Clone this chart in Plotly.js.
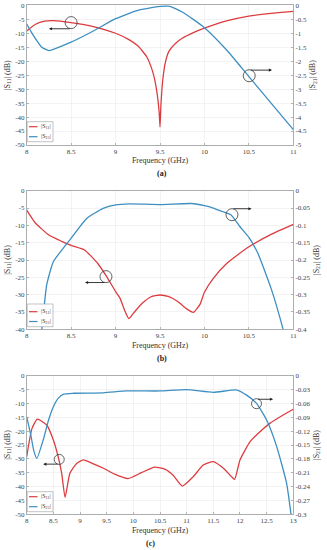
<!DOCTYPE html>
<html>
<head>
<meta charset="utf-8">
<script src="https://cdn.plot.ly/plotly-3.0.1.min.js"></script>
<style>html,body{margin:0;padding:0;background:#fff;}#chart{width:327px;height:550px;}</style>
</head>
<body>
<div id="chart"></div>
<script>
// ---------- Panel (a) ----------
const aS11Freq = [8, 8.1, 8.2, 8.3, 8.5, 8.75, 9, 9.15, 9.25, 9.35, 9.42, 9.46, 9.49, 9.5, 9.51, 9.53, 9.56, 9.6, 9.68, 9.75, 9.875, 10, 10.25, 10.5, 10.75, 11];
const aS11 = [-9.2, -6.8, -5.7, -5.5, -6.2, -7.6, -10, -12.3, -14.5, -18.4, -24, -30, -38, -43.5, -36, -27, -20.5, -16.5, -13.5, -11.8, -9.8, -8.2, -5.6, -3.9, -2.9, -2.2];
const aS21Freq = [8, 8.05, 8.1, 8.17, 8.25, 8.4, 8.5, 8.75, 9, 9.25, 9.5, 9.6, 9.75, 10, 10.25, 10.5, 10.75, 11];
const aS21 = [-0.67, -0.95, -1.2, -1.5, -1.62, -1.45, -1.32, -0.92, -0.48, -0.18, -0.04, -0.03, -0.24, -0.8, -1.6, -2.55, -3.5, -4.45];

// ---------- Panel (b) ----------
const bS11Freq = [8, 8.1, 8.25, 8.4, 8.5, 8.65, 8.8, 8.9, 9, 9.05, 9.1, 9.15, 9.2, 9.3, 9.4, 9.5, 9.6, 9.7, 9.8, 9.875, 9.95, 10, 10.1, 10.25, 10.5, 10.75, 11];
const bS11 = [-5.6, -9.4, -12.8, -14.7, -15.8, -17.1, -21, -24.8, -29.1, -31, -34.4, -36.9, -35.4, -32.5, -30.6, -30.1, -30.6, -32, -34.1, -35.1, -32.8, -29.3, -25.3, -21, -16.2, -12.6, -9.7];
const bS21Freq = [8.1, 8.169, 8.225, 8.3, 8.5, 8.675, 8.86, 9, 9.16, 9.5, 9.85, 10, 10.1, 10.2, 10.3, 10.4, 10.5, 10.6, 10.75, 10.887, 10.95];
const bS21 = [-0.52, -0.402, -0.272, -0.205, -0.137, -0.08, -0.051, -0.041, -0.038, -0.04, -0.037, -0.043, -0.05, -0.06, -0.07, -0.104, -0.135, -0.18, -0.282, -0.402, -0.47];

// ---------- Panel (c) ----------
const cS11Freq = [8, 8.1, 8.2, 8.375, 8.5, 8.59, 8.656, 8.72, 8.81, 8.94, 9.06, 9.25, 9.44, 9.65, 9.9, 10.15, 10.4, 10.6, 10.75, 10.92, 11.125, 11.31, 11.5, 11.69, 11.84, 11.9, 12.0, 12.19, 12.375, 12.56, 12.81, 13];
const cS11 = [-29.2, -19, -15.7, -17.8, -23.2, -29.2, -35.2, -43.9, -35.2, -31.6, -30.4, -31.8, -33.4, -35.5, -37.1, -35, -33, -33.8, -36, -39.8, -36.4, -32.2, -31, -33.4, -36.4, -37.4, -30.4, -23.8, -20.2, -17.2, -14.2, -12.1];
const cS21Freq = [8, 8.08, 8.13, 8.19, 8.31, 8.41, 8.5, 8.59, 8.69, 8.875, 9.44, 9.875, 10.5, 11, 11.5, 11.94, 12.125, 12.31, 12.5, 12.69, 12.875, 12.96, 13.0];
const cS21 = [-0.089, -0.13, -0.161, -0.179, -0.139, -0.096, -0.067, -0.049, -0.040, -0.038, -0.037, -0.033, -0.033, -0.030, -0.036, -0.031, -0.042, -0.060, -0.096, -0.154, -0.233, -0.302, -0.33];

// ---------- Tick labels ----------
const xTicksAB = [8, 8.5, 9, 9.5, 10, 10.5, 11];
const xTickTextAB = ["8", "8.5", "9", "9.5", "10", "10.5", "11"];
const xTicksC = [8, 8.5, 9, 9.5, 10, 10.5, 11, 11.5, 12, 12.5, 13];
const xTickTextC = ["8", "8.5", "9", "9.5", "10", "10.5", "11", "11.5", "12", "12.5", "13"];
const yLeftTicks50 = [0, -5, -10, -15, -20, -25, -30, -35, -40, -45, -50];
const yLeftText50 = ["0", "-5", "-10", "-15", "-20", "-25", "-30", "-35", "-40", "-45", "-50"];
const yLeftTicks40 = [0, -5, -10, -15, -20, -25, -30, -35, -40];
const yLeftText40 = ["0", "-5", "-10", "-15", "-20", "-25", "-30", "-35", "-40"];
const yRightTicksA = [0, -0.5, -1, -1.5, -2, -2.5, -3, -3.5, -4, -4.5, -5];
const yRightTextA = ["0", "-0.5", "-1", "-1.5", "-2", "-2.5", "-3", "-3.5", "-4", "-4.5", "-5"];
const yRightTicksB = [0, -0.05, -0.1, -0.15, -0.2, -0.25, -0.3, -0.35, -0.4];
const yRightTextB = ["0", "-0.05", "-0.1", "-0.15", "-0.2", "-0.25", "-0.3", "-0.35", "-0.4"];
const yRightTicksC = [0, -0.03, -0.06, -0.09, -0.12, -0.15, -0.18, -0.21, -0.24, -0.27, -0.3];
const yRightTextC = ["0", "-0.03", "-0.06", "-0.09", "-0.12", "-0.15", "-0.18", "-0.21", "-0.24", "-0.27", "-0.3"];

const panelLabels = ["(a)", "(b)", "(c)"];
const s11Name = "|S<sub>11</sub>|";
const s21Name = "|S<sub>21</sub>|";

// ---------- styling ----------
const RED = "#dd3c3f";
const BLUE = "#3d8fc2";
const FONT = "Liberation Serif, DejaVu Serif, serif";
const AXC = "#8a8a8a";
const GRID = "#ebebeb";

function tr(x, y, name, color, xa, ya) {
  return {x: x, y: y, name: name, type: "scatter", mode: "lines",
    line: {color: color, width: 1.3, shape: "spline", smoothing: 0.5},
    xaxis: xa, yaxis: ya, showlegend: false, hoverinfo: "skip"};
}

const data = [
  tr(aS11Freq, aS11, s11Name, RED, "x", "y"),
  tr(aS21Freq, aS21, s21Name, BLUE, "x", "y2"),
  tr(bS11Freq, bS11, s11Name, RED, "x2", "y3"),
  tr(bS21Freq, bS21, s21Name, BLUE, "x2", "y4"),
  tr(cS11Freq, cS11, s11Name, RED, "x3", "y5"),
  tr(cS21Freq, cS21, s21Name, BLUE, "x3", "y6")
];

const XD = [26.7/327, 293.3/327];
function yd(top, bot) { return [1 - bot/550, 1 - top/550]; }

function xaxis(anchor, range, tv, tt) {
  return {domain: XD, anchor: anchor, range: range, tickvals: tv, ticktext: tt,
    showgrid: true, gridcolor: GRID, gridwidth: 0.6, zeroline: false,
    showline: true, linecolor: AXC, linewidth: 0.7, mirror: true,
    ticks: "inside", ticklen: 2.5, tickcolor: AXC, tickwidth: 0.6,
    tickfont: {family: FONT, size: 7, color: "#444"},
    title: {text: "Frequency (GHz)", font: {family: FONT, size: 8, color: "#333"}, standoff: 2},
    automargin: false, fixedrange: true};
}
function yleft(anchor, dom, range, tv, tt) {
  return {domain: dom, anchor: anchor, range: range, tickvals: tv, ticktext: tt,
    showgrid: true, gridcolor: GRID, gridwidth: 0.6, zeroline: false,
    showline: true, linecolor: AXC, linewidth: 0.7, mirror: false,
    ticks: "inside", ticklen: 2.5, tickcolor: AXC, tickwidth: 0.6,
    tickfont: {family: FONT, size: 7, color: "#444"},
    title: {text: s11Name + " (dB)", font: {family: FONT, size: 8, color: "#333"}, standoff: 3},
    automargin: false, fixedrange: true};
}
function yright(anchor, over, range, tv, tt) {
  return {overlaying: over, anchor: anchor, side: "right", range: range, tickvals: tv, ticktext: tt,
    showgrid: false, zeroline: false,
    showline: true, linecolor: AXC, linewidth: 0.7,
    ticks: "inside", ticklen: 2.5, tickcolor: AXC, tickwidth: 0.6,
    tickfont: {family: FONT, size: 7, color: "#444"},
    title: {text: s21Name + " (dB)", font: {family: FONT, size: 8, color: "#333"}, standoff: 3},
    automargin: false, fixedrange: true};
}

function circle(xa, ya, x, y, r) {
  return {type: "circle", xref: xa, yref: ya, xsizemode: "pixel", ysizemode: "pixel",
    xanchor: x, yanchor: y, x0: -r, x1: r, y0: -r, y1: r,
    line: {color: "#3a3a3a", width: 0.8}};
}
function arrow(xa, ya, xTail, xHead, y) {
  return {xref: xa, yref: ya, axref: xa, ayref: ya, x: xHead, y: y, ax: xTail, ay: y,
    text: "", showarrow: true, arrowhead: 2, arrowsize: 0.7, arrowwidth: 0.9, arrowcolor: "#222"};
}
function lbl(text, xpx, ypx) {
  return {xref: "paper", yref: "paper", x: xpx/327, y: 1 - ypx/550, text: "<b>" + text + "</b>",
    showarrow: false, font: {family: FONT, size: 8, color: "#222"}, xanchor: "center", yanchor: "middle"};
}

// compact legend box (paper coords, px converted)
const px = v => v/327, py = v => 1 - v/550;
const shapes = [
  circle("x", "y", 8.5, -6.2, 6),
  circle("x", "y", 10.504, -25.2, 6),
  circle("x2", "y3", 8.892, -24.8, 6),
  circle("x2", "y3", 10.31, -6.93, 6),
  circle("x3", "y5", 8.61, -30.2, 5),
  circle("x3", "y5", 12.31, -10.1, 5)
];
const annotations = [
  arrow("x", "y", 8.5, 8.25, -8.4),
  arrow("x", "y", 10.504, 10.76, -23.2),
  arrow("x2", "y3", 8.892, 8.656, -26.5),
  arrow("x2", "y3", 10.31, 10.53, -5.2),
  arrow("x3", "y5", 8.61, 8.31, -31.9),
  arrow("x3", "y5", 12.31, 12.62, -8.5),
  lbl(panelLabels[0], 162, 173),
  lbl(panelLabels[1], 162, 358),
  lbl(panelLabels[2], 150, 543)
];
function addLegend(top, bottom, yRed, yBlue) {
  shapes.push({type: "rect", xref: "paper", yref: "paper", x0: px(27.2), x1: px(53), y0: py(bottom), y1: py(top),
    fillcolor: "#ffffff", line: {color: "#9a9a9a", width: 0.6}, layer: "above"});
  [[yRed, RED, s11Name], [yBlue, BLUE, s21Name]].forEach(function (e) {
    shapes.push({type: "line", xref: "paper", yref: "paper", x0: px(29), x1: px(37.5), y0: py(e[0]), y1: py(e[0]),
      line: {color: e[1], width: 1.2}, layer: "above"});
    annotations.push({xref: "paper", yref: "paper", x: px(38.5), y: py(e[0]), text: e[2], showarrow: false,
      xanchor: "left", yanchor: "middle", font: {family: FONT, size: 6, color: "#333"}});
  });
}
addLegend(121.7, 141.7, 126.7, 136.7);
addLegend(304, 326.7, 311.7, 321.5);
addLegend(491.7, 511.7, 496.7, 506.7);

const layout = {
  width: 327, height: 550, margin: {l: 0, r: 0, t: 0, b: 0},
  paper_bgcolor: "#ffffff", plot_bgcolor: "#ffffff",
  showlegend: false,
  xaxis: xaxis("y", [8, 11], xTicksAB, xTickTextAB),
  yaxis: yleft("x", yd(5.3, 145), [-50, 0], yLeftTicks50, yLeftText50),
  yaxis2: yright("x", "y", [-5, 0], yRightTicksA, yRightTextA),
  xaxis2: xaxis("y3", [8, 11], xTicksAB, xTickTextAB),
  yaxis3: yleft("x2", yd(190.7, 329.3), [-40, 0], yLeftTicks40, yLeftText40),
  yaxis4: yright("x2", "y3", [-0.4, 0], yRightTicksB, yRightTextB),
  xaxis3: xaxis("y5", [8, 13], xTicksC, xTickTextC),
  yaxis5: yleft("x3", yd(375.7, 514.3), [-50, 0], yLeftTicks50, yLeftText50),
  yaxis6: yright("x3", "y5", [-0.3, 0], yRightTicksC, yRightTextC),
  shapes: shapes,
  annotations: annotations
};

Plotly.newPlot("chart", data, layout, {staticPlot: true, displayModeBar: false});
</script>
</body>
</html>
